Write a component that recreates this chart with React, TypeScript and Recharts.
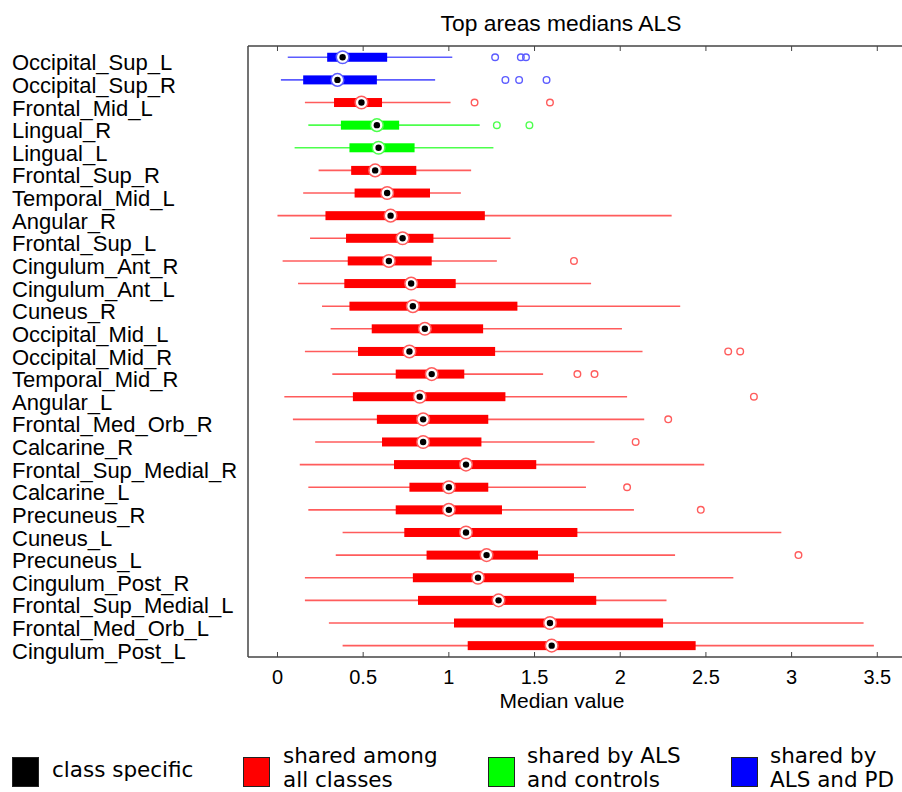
import React from 'react';
import { ComposedChart, Bar, XAxis, YAxis } from 'recharts';

// areas, top to bottom
const areas = [
  'Occipital_Sup_L', 'Occipital_Sup_R', 'Frontal_Mid_L', 'Lingual_R', 'Lingual_L',
  'Frontal_Sup_R', 'Temporal_Mid_L', 'Angular_R', 'Frontal_Sup_L', 'Cingulum_Ant_R',
  'Cingulum_Ant_L', 'Cuneus_R', 'Occipital_Mid_L', 'Occipital_Mid_R', 'Temporal_Mid_R',
  'Angular_L', 'Frontal_Med_Orb_R', 'Calcarine_R', 'Frontal_Sup_Medial_R', 'Calcarine_L',
  'Precuneus_R', 'Cuneus_L', 'Precuneus_L', 'Cingulum_Post_R', 'Frontal_Sup_Medial_L',
  'Frontal_Med_Orb_L', 'Cingulum_Post_L',
];

// which class group each area belongs to
const groups = [
  'pd', 'pd', 'all', 'ctrl', 'ctrl', 'all', 'all', 'all', 'all', 'all',
  'all', 'all', 'all', 'all', 'all', 'all', 'all', 'all', 'all', 'all',
  'all', 'all', 'all', 'all', 'all', 'all', 'all',
];

const whiskerLow = [
  0.06, 0.02, 0.16, 0.18, 0.10, 0.24, 0.15, 0.00, 0.19, 0.03,
  0.12, 0.26, 0.31, 0.16, 0.32, 0.04, 0.09, 0.22, 0.13, 0.18,
  0.18, 0.38, 0.34, 0.16, 0.16, 0.30, 0.38,
];
const lowerQuartile = [
  0.29, 0.15, 0.33, 0.37, 0.42, 0.43, 0.45, 0.28, 0.40, 0.41,
  0.39, 0.42, 0.55, 0.47, 0.69, 0.44, 0.58, 0.61, 0.68, 0.77,
  0.69, 0.74, 0.87, 0.79, 0.82, 1.03, 1.11,
];
const medians = [
  0.38, 0.35, 0.49, 0.58, 0.59, 0.57, 0.64, 0.66, 0.73, 0.65,
  0.78, 0.79, 0.86, 0.77, 0.90, 0.83, 0.85, 0.85, 1.10, 1.00,
  1.00, 1.10, 1.22, 1.17, 1.29, 1.59, 1.60,
];
const upperQuartile = [
  0.64, 0.58, 0.61, 0.71, 0.80, 0.81, 0.89, 1.21, 0.91, 0.90,
  1.04, 1.40, 1.20, 1.27, 1.09, 1.33, 1.23, 1.19, 1.51, 1.23,
  1.31, 1.75, 1.52, 1.73, 1.86, 2.25, 2.44,
];
const whiskerHigh = [
  1.02, 0.92, 1.01, 1.18, 1.26, 1.13, 1.07, 2.30, 1.36, 1.28,
  1.83, 2.35, 2.01, 2.13, 1.55, 2.04, 2.14, 1.85, 2.49, 1.80,
  2.08, 2.94, 2.32, 2.66, 2.27, 3.42, 3.48,
];
const outliers: number[][] = [
  [1.27, 1.42, 1.45], [1.33, 1.41, 1.57], [1.15, 1.59], [1.28, 1.47], [],
  [], [], [], [], [1.73],
  [], [], [], [2.63, 2.70], [1.75, 1.85],
  [2.78], [2.28], [2.09], [], [2.04],
  [2.47], [], [3.04], [], [],
  [], [],
];

const xTicks = [0, 0.5, 1, 1.5, 2, 2.5, 3, 3.5];

const legendItems = [
  { label: ['class specific'], color: '#000000' },
  { label: ['shared among', 'all classes'], color: '#ff0000' },
  { label: ['shared by ALS', 'and controls'], color: '#00ff00' },
  { label: ['shared by', 'ALS and PD'], color: '#0000ff' },
];

const palette: Record<string, { box: string; line: string }> = {
  all: { box: '#ff0000', line: '#ff5c5c' },
  ctrl: { box: '#00ff00', line: '#4cff4c' },
  pd: { box: '#0000ff', line: '#5c5cff' },
};

const data = areas.map((name, i) => ({
  name,
  group: groups[i],
  lo: whiskerLow[i],
  q1: lowerQuartile[i],
  med: medians[i],
  q3: upperQuartile[i],
  hi: whiskerHigh[i],
  out: outliers[i],
}));

const AXIS = '#444';
const SANS = '"Liberation Sans", Arial, sans-serif';
const DOMAIN: [number, number] = [-0.172, 3.65];

const BoxShape = (props: any) => {
  const { x, y, width, height, payload } = props;
  const { lo, hi, q1, q3, med, out, group } = payload;
  const k = width / (hi - lo);
  const px = (v: number) => x + (v - lo) * k;
  const cy = y + height / 2;
  const c = palette[group];
  return (
    <g>
      <line x1={px(lo)} x2={px(hi)} y1={cy} y2={cy} stroke={c.line} strokeWidth={1.6} />
      <rect x={px(q1)} y={cy - 4.5} width={px(q3) - px(q1)} height={9} fill={c.box} />
      <circle cx={px(med)} cy={cy} r={6.3} fill="#fff" stroke={c.line} strokeWidth={1.5} />
      <circle cx={px(med)} cy={cy} r={3.2} fill="#000" />
      {out.map((v: number, j: number) => (
        <circle key={j} cx={px(v)} cy={cy} r={3.3} fill="none" stroke={c.line} strokeWidth={1.4} />
      ))}
    </g>
  );
};

const BottomTick = ({ x, y, payload }: any) => (
  <g>
    <line x1={x} x2={x} y1={y} y2={y - 5} stroke={AXIS} strokeWidth={1} />
    <text x={x} y={y + 27} textAnchor="middle" fontSize={20} fontFamily={SANS} fill="#000">
      {payload.value}
    </text>
  </g>
);

const TopTick = ({ x, y }: any) => (
  <line x1={x} x2={x} y1={y} y2={y + 5} stroke={AXIS} strokeWidth={1} />
);

const AreaTick = ({ y, payload }: any) => (
  <text x={12} y={y + 13} textAnchor="start" fontSize={22} fontFamily={SANS} fill="#000">
    {payload.value}
  </text>
);

export default function App() {
  return (
    <div style={{ position: 'absolute', left: 0, top: 0, width: 902, height: 792, overflow: 'hidden', background: '#fff', fontFamily: SANS }}>
      <div style={{ position: 'absolute', left: 561, top: 12, transform: 'translateX(-50%)', whiteSpace: 'nowrap', fontSize: 22.8, lineHeight: '23px' }}>
        Top areas medians ALS
      </div>
      <ComposedChart
        width={912}
        height={700}
        data={data}
        layout="vertical"
        margin={{ top: 26, right: 9, bottom: 0, left: 0 }}
      >
        <XAxis
          type="number"
          domain={DOMAIN}
          ticks={xTicks}
          interval={0}
          allowDataOverflow
          height={43}
          tickLine={false}
          tickSize={0}
          tickMargin={0}
          tick={<BottomTick />}
          axisLine={{ stroke: AXIS, strokeWidth: 1.5 }}
        />
        <XAxis
          xAxisId="top"
          orientation="top"
          type="number"
          domain={DOMAIN}
          ticks={xTicks}
          interval={0}
          allowDataOverflow
          height={20}
          tickLine={false}
          tickSize={0}
          tickMargin={0}
          tick={<TopTick />}
          axisLine={{ stroke: AXIS, strokeWidth: 1.5 }}
        />
        <YAxis
          type="category"
          dataKey="name"
          width={248}
          interval={0}
          tickLine={false}
          tick={<AreaTick />}
          axisLine={{ stroke: AXIS, strokeWidth: 1.5 }}
        />
        <Bar
          dataKey={(d: any) => [d.lo, d.hi]}
          shape={<BoxShape />}
          isAnimationActive={false}
        />
      </ComposedChart>
      <div style={{ position: 'absolute', left: 562, top: 690, transform: 'translateX(-50%)', whiteSpace: 'nowrap', fontSize: 21, lineHeight: '21px' }}>
        Median value
      </div>
      {legendItems.map((item, i) => {
        const left = [12, 243, 488, 731][i];
        const textLeft = [52, 283, 527, 770][i];
        const twoLines = item.label.length > 1;
        return (
          <React.Fragment key={i}>
            <div style={{ position: 'absolute', left, top: 757, width: 25, height: 28, background: item.color, border: '1.5px solid #222' }} />
            <div style={{ position: 'absolute', left: textLeft, top: twoLines ? 744 : 758, fontFamily: '"DejaVu Sans", Verdana, sans-serif', fontSize: 21.5, lineHeight: '24px', whiteSpace: 'nowrap' }}>
              {item.label.map((t, j) => <div key={j}>{t}</div>)}
            </div>
          </React.Fragment>
        );
      })}
    </div>
  );
}
